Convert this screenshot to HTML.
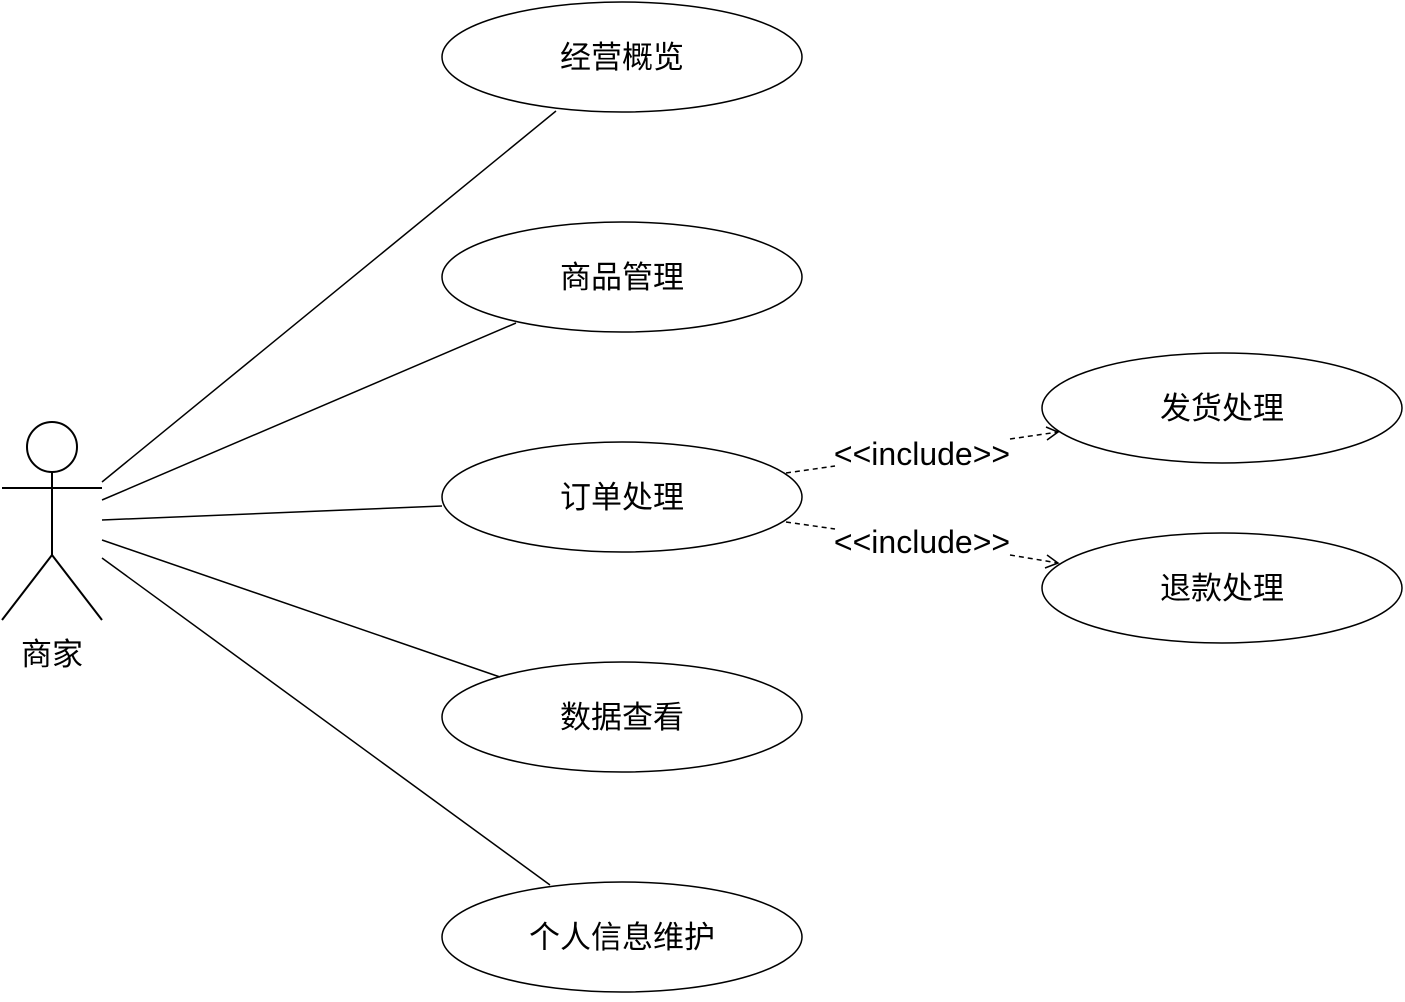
<!DOCTYPE html>
<html><head><meta charset="utf-8"><style>
html,body{margin:0;padding:0;background:#fff;}
svg text{font-family:"Liberation Sans","Noto Sans CJK SC",sans-serif;}
</style></head><body>
<svg width="1405" height="997" viewBox="0 0 1405 997" xmlns="http://www.w3.org/2000/svg">
<g fill="none" stroke="#000" stroke-width="2">
<circle cx="52" cy="447" r="25"/>
<line x1="52" y1="472" x2="52" y2="555"/>
<line x1="2" y1="488" x2="102" y2="488"/>
<line x1="52" y1="555" x2="2" y2="620"/>
<line x1="52" y1="555" x2="102" y2="620"/>
</g>
<g fill="none" stroke="#000" stroke-width="1.5">
<line x1="102" y1="482" x2="556" y2="111"/>
<line x1="102" y1="500" x2="516" y2="323"/>
<line x1="102" y1="520" x2="442" y2="506"/>
<line x1="102" y1="540" x2="500" y2="677"/>
<line x1="102" y1="558" x2="550" y2="885"/>
<ellipse cx="622" cy="57" rx="180" ry="55"/>
<ellipse cx="622" cy="277" rx="180" ry="55"/>
<ellipse cx="622" cy="497" rx="180" ry="55"/>
<ellipse cx="622" cy="717" rx="180" ry="55"/>
<ellipse cx="622" cy="937" rx="180" ry="55"/>
<ellipse cx="1222" cy="408" rx="180" ry="55"/>
<ellipse cx="1222" cy="588" rx="180" ry="55"/>
<g stroke-dasharray="5,4">
<line x1="786" y1="473" x2="835" y2="466"/>
<line x1="1010" y1="439" x2="1058" y2="432"/>
<line x1="786" y1="522" x2="835" y2="529"/>
<line x1="1010" y1="555" x2="1058" y2="563"/>
</g>
<polyline points="1046,427 1058,432 1047,440"/>
<polyline points="1047,555 1058,563 1045,568"/>
</g>
<g font-size="31" text-anchor="middle" fill="#000">
<text x="622" y="68">经营概览</text>
<text x="622" y="288">商品管理</text>
<text x="622" y="508">订单处理</text>
<text x="622" y="728">数据查看</text>
<text x="622" y="948">个人信息维护</text>
<text x="1222" y="419">发货处理</text>
<text x="1222" y="599">退款处理</text>
<text x="52" y="665">商家</text>
</g>
<g font-size="32" text-anchor="middle" fill="#000">
<text x="922" y="465">&lt;&lt;include&gt;&gt;</text>
<text x="922" y="553">&lt;&lt;include&gt;&gt;</text>
</g>
</svg>
</body></html>
